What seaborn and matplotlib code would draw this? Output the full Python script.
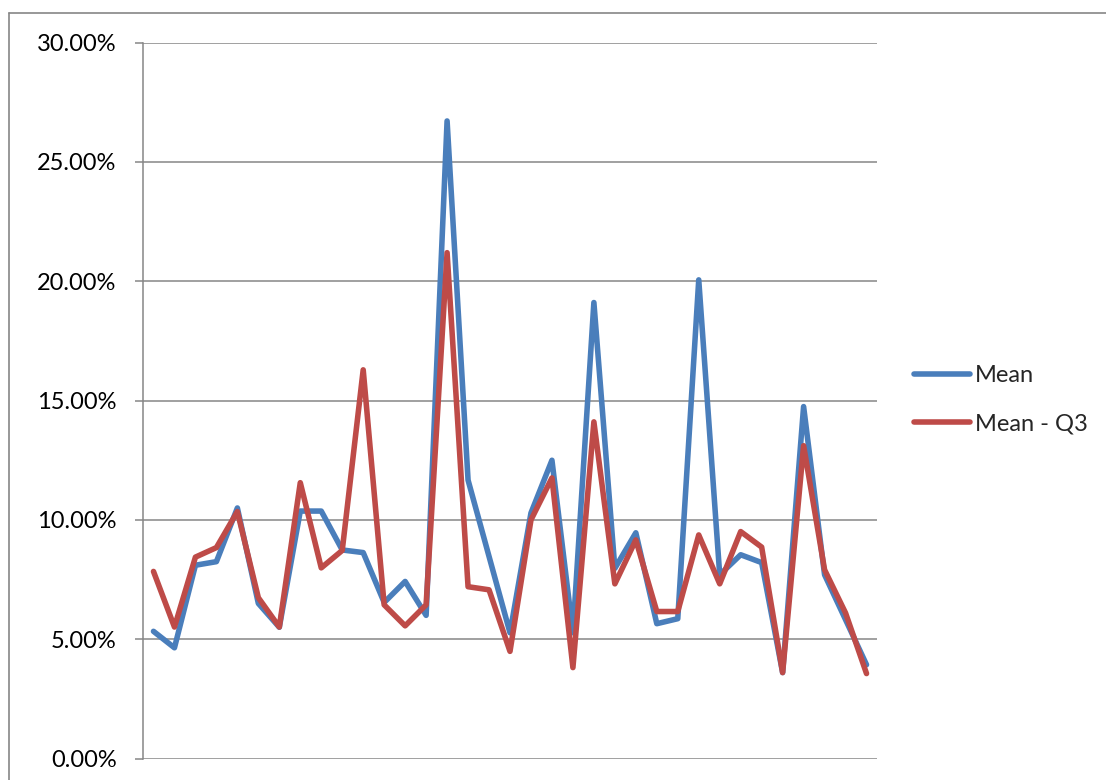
import matplotlib
matplotlib.use("Agg")
import matplotlib.pyplot as plt
from matplotlib.lines import Line2D
from matplotlib.ticker import FuncFormatter, MultipleLocator
import numpy as np
import pandas as pd
import seaborn as sns

# Series values (percent) for the 35 categories
mean_vals = [5.33, 4.64, 8.10, 8.25, 10.50, 6.50, 5.50, 10.37, 10.37, 8.74,
             8.63, 6.54, 7.42, 6.00, 26.72, 11.67, 8.47, 5.27, 10.29, 12.50,
             5.27, 19.11, 7.97, 9.46, 5.65, 5.86, 20.06, 7.70, 8.54, 8.21,
             3.60, 14.75, 7.70, 5.82, 3.93]
mean_q3_vals = [7.84, 5.51, 8.44, 8.84, 10.35, 6.74, 5.51, 11.56, 7.99, 8.72,
                16.29, 6.44, 5.56, 6.44, 21.20, 7.20, 7.07, 4.49, 10.00, 11.76,
                3.81, 14.11, 7.32, 9.16, 6.16, 6.16, 9.37, 7.32, 9.51, 8.86,
                3.60, 13.11, 7.91, 6.10, 3.56]
series_names = ["Mean", "Mean - Q3"]
categories = list(range(1, len(mean_vals) + 1))

df = pd.DataFrame({
    "category": categories * 2,
    "value": mean_vals + mean_q3_vals,
    "series": [series_names[0]] * len(mean_vals) + [series_names[1]] * len(mean_q3_vals),
})

sns.set_theme(style="white")
plt.rcParams["font.family"] = ["Lato", "DejaVu Sans"]

W, H = 1106, 780
fig = plt.figure(figsize=(W / 100, H / 100), dpi=100)
ax = fig.add_axes([143 / W, 1 - 758.5 / H, (877 - 143) / W, (758.5 - 42.7) / H])

palette = {"Mean": "#4A7EBB", "Mean - Q3": "#BE4B48"}
sns.lineplot(data=df, x="category", y="value", hue="series", palette=palette,
             ax=ax, legend=False, sort=False)
for ln in ax.get_lines():
    ln.set_linewidth(4.0)
    ln.set_solid_joinstyle("round")
    ln.set_solid_capstyle("round")

grid_col = "#868686"
ax.set_xlim(0.5, len(categories) + 0.5)
ax.set_ylim(0, 30)
ax.yaxis.set_major_locator(MultipleLocator(5))
ax.yaxis.set_major_formatter(FuncFormatter(lambda v, p: f"{v:.2f}%"))
ax.grid(axis="y", color=grid_col, linewidth=1.1)
ax.grid(axis="x", visible=False)
ax.set_axisbelow(True)
ax.set_xticks([])
ax.set_xlabel("")
ax.set_ylabel("")
for side in ["top", "right", "bottom"]:
    ax.spines[side].set_visible(False)
ax.spines["left"].set_color(grid_col)
ax.spines["left"].set_linewidth(1.1)
ax.tick_params(axis="y", left=True, length=6, width=1.1, color=grid_col,
               pad=13, labelsize=17, labelcolor="#000000")

handles = ax.get_lines()[:2]
ax.legend(handles, series_names, loc="center left",
          bbox_to_anchor=(905 / W, 1 - 400 / H), bbox_transform=fig.transFigure,
          frameon=False, fontsize=17, handlelength=2.35, handletextpad=0.22,
          labelspacing=1.15, borderaxespad=0)

# Outer chart frame (top and left edges)
fig.add_artist(Line2D([9 / W, 1.0], [1 - 12.7 / H, 1 - 12.7 / H],
                      transform=fig.transFigure, color=grid_col, linewidth=1.2))
fig.add_artist(Line2D([9 / W, 9 / W], [1 - 12.7 / H, 0.0],
                      transform=fig.transFigure, color=grid_col, linewidth=1.2))

fig.savefig("out.png", dpi=100, facecolor="white")
